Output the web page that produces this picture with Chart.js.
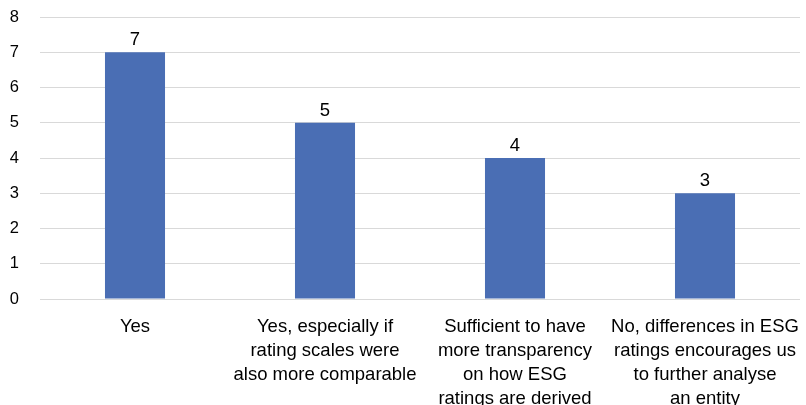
<!DOCTYPE html>
<html>
<head>
<meta charset="utf-8">
<script src="https://cdn.jsdelivr.net/npm/chart.js@4"></script>
<style>
  html, body { margin: 0; padding: 0; background: #fff; }
</style>
</head>
<body>
<canvas id="grafico" width="806" height="405"></canvas>
<script>
// Dados do gráfico
const categorias = [
    ['Yes'],
    ['Yes, especially if', 'rating scales were', 'also more comparable'],
    ['Sufficient to have', 'more transparency', 'on how ESG', 'ratings are derived'],
    ['No, differences in ESG', 'ratings encourages us', 'to further analyse', 'an entity']
];
const valores = [7, 5, 4, 3];
const ticksY = [0, 1, 2, 3, 4, 5, 6, 7, 8];

const fonte = 'Liberation Sans, Arial, Helvetica, sans-serif';

// Rótulos de valor acima das barras
const rotulosValor = {
    id: 'rotulosValor',
    afterDatasetsDraw(chart) {
        const ctx = chart.ctx;
        const meta = chart.getDatasetMeta(0);
        ctx.save();
        ctx.font = '18.5px ' + fonte;
        ctx.fillStyle = '#000';
        ctx.textAlign = 'center';
        ctx.textBaseline = 'alphabetic';
        meta.data.forEach(function(bar, i) {
            ctx.fillText(String(valores[i]), bar.x, bar.y - 7);
        });
        ctx.restore();
    }
};

new Chart(document.getElementById('grafico'), {
    type: 'bar',
    data: {
        labels: categorias,
        datasets: [{
            data: valores,
            backgroundColor: '#4A6EB4',
            borderWidth: 0,
            categoryPercentage: 1,
            barPercentage: 0.316
        }]
    },
    options: {
        responsive: false,
        animation: false,
        layout: { padding: { top: 17, right: 6, left: 0, bottom: 0 } },
        plugins: {
            legend: { display: false },
            tooltip: { enabled: false }
        },
        scales: {
            x: {
                grid: { display: false },
                border: { display: false },
                ticks: {
                    color: '#000',
                    font: { family: fonte, size: 18.5, lineHeight: 1.3 },
                    padding: 8,
                    maxRotation: 0,
                    autoSkip: false
                },
                afterFit(scale) {
                    scale.height = 106;
                    scale.paddingLeft = 0;
                    scale.paddingRight = 0;
                }
            },
            y: {
                min: 0,
                max: 8,
                afterBuildTicks(scale) {
                    scale.ticks = ticksY.map(v => ({ value: v }));
                },
                grid: { color: '#d9d9d9', lineWidth: 1, drawTicks: false },
                border: { display: false },
                ticks: {
                    color: '#000',
                    font: { family: fonte, size: 16.5 },
                    padding: 21
                },
                afterFit(scale) {
                    scale.width = 40;
                    scale.paddingTop = 0;
                    scale.paddingBottom = 0;
                }
            }
        }
    },
    plugins: [rotulosValor]
});
</script>
</body>
</html>
